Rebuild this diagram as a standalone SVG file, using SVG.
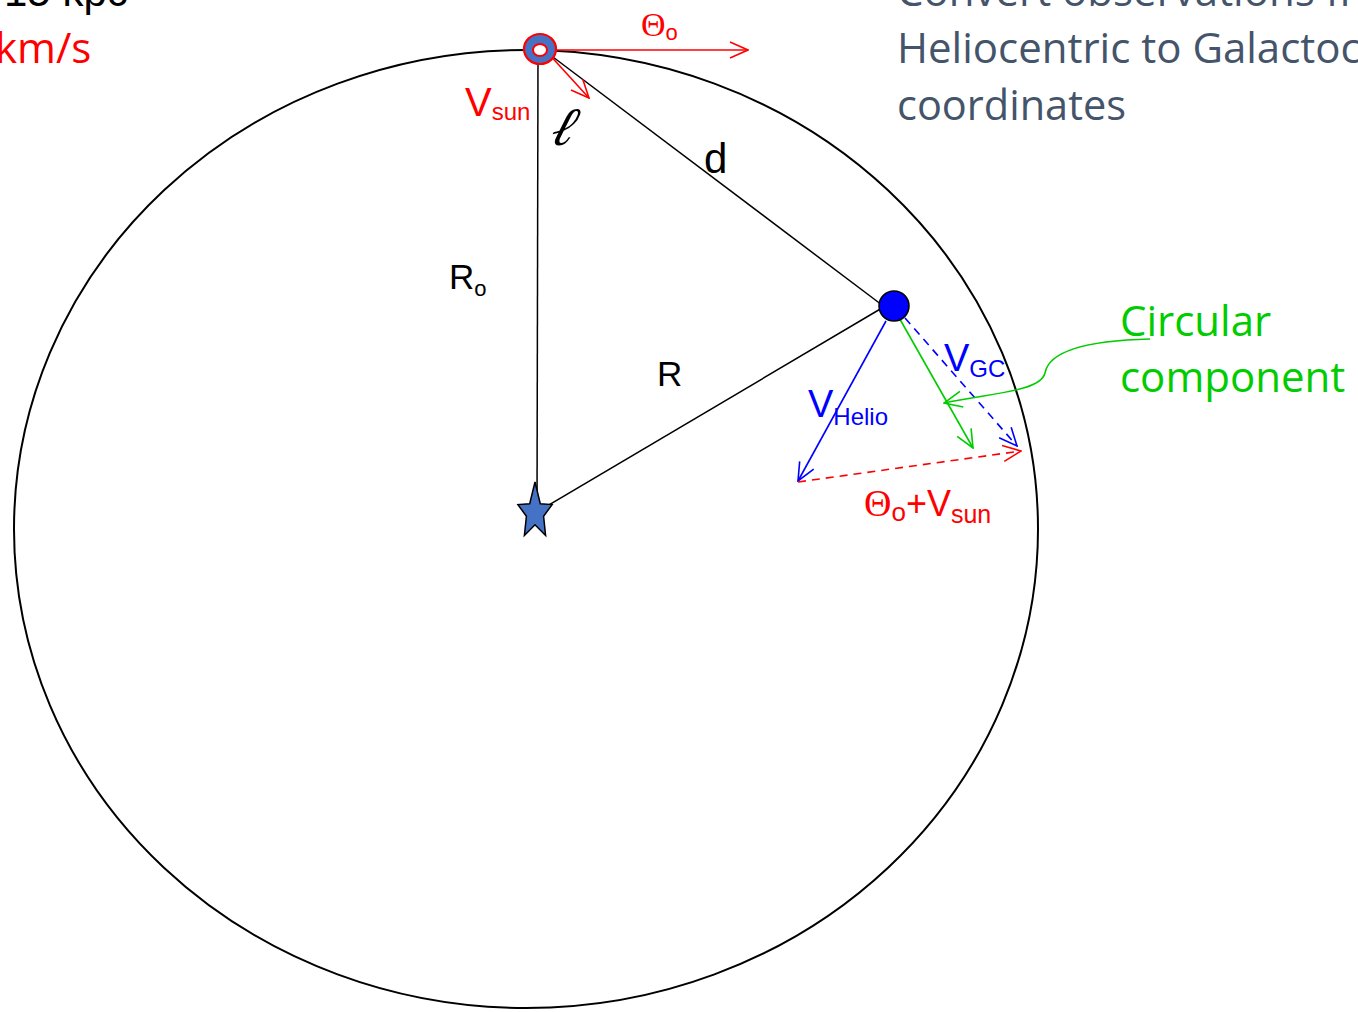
<svg xmlns="http://www.w3.org/2000/svg" width="1358" height="1012" viewBox="0 0 1358 1012">
<defs>
<style>
.ln{fill:none;stroke:#000;stroke-width:1.5}
.r{fill:#FF0000}
.b{fill:#0000FF}
.g{fill:#00CC00}
.lab{font-family:"Liberation Sans",Arial,sans-serif}
.th{font-family:"Liberation Serif","Times New Roman",serif}
.cal{font-family:"Open Sans","Liberation Sans",sans-serif}
</style>
<marker id="ar" viewBox="0 0 20 20" refX="19" refY="10" markerWidth="20" markerHeight="20" markerUnits="userSpaceOnUse" orient="auto"><path d="M1,2 L19,10 L1,18" fill="none" stroke="#FF0000" stroke-width="1.6"/></marker>
<marker id="ab" viewBox="0 0 20 20" refX="19" refY="10" markerWidth="20" markerHeight="20" markerUnits="userSpaceOnUse" orient="auto"><path d="M1,2 L19,10 L1,18" fill="none" stroke="#0000FF" stroke-width="1.6"/></marker>
<marker id="ag" viewBox="0 0 20 20" refX="19" refY="10" markerWidth="20" markerHeight="20" markerUnits="userSpaceOnUse" orient="auto"><path d="M1,2 L19,10 L1,18" fill="none" stroke="#00CC00" stroke-width="1.6"/></marker>
<marker id="ags" viewBox="0 0 20 20" refX="1" refY="10" markerWidth="20" markerHeight="20" markerUnits="userSpaceOnUse" orient="auto"><path d="M19,2 L1,10 L19,18" fill="none" stroke="#00CC00" stroke-width="1.6"/></marker>
</defs>
<rect width="1358" height="1012" fill="#fff"/>

<g id="galaxy">
<ellipse cx="526" cy="529" rx="512" ry="479" fill="none" stroke="#000" stroke-width="2"/>
</g>

<g id="connectors">
<line class="ln" x1="538" y1="55" x2="537" y2="510"/>
<line class="ln" x1="545" y1="51" x2="882" y2="305"/>
<line class="ln" x1="537" y1="512" x2="882" y2="308"/>
<line x1="548" y1="50" x2="748" y2="50" stroke="#FF0000" stroke-width="1.6" marker-end="url(#ar)"/>
<line x1="547" y1="52" x2="589" y2="98" stroke="#FF0000" stroke-width="1.6" marker-end="url(#ar)"/>
<line x1="886" y1="321" x2="798" y2="481" stroke="#0000FF" stroke-width="1.6" marker-end="url(#ab)"/>
<line x1="893" y1="307" x2="973" y2="448" stroke="#00CC00" stroke-width="1.6" marker-end="url(#ag)"/>
<line x1="905" y1="318" x2="1017" y2="446" stroke="#0000FF" stroke-width="1.6" stroke-dasharray="8,6" marker-end="url(#ab)"/>
<line x1="798" y1="482" x2="1021" y2="451" stroke="#FF0000" stroke-width="1.6" stroke-dasharray="8,6" marker-end="url(#ar)"/>
<path d="M944 403 C990 393,1040 392,1045 373 C1050 345,1110 340,1150 339" fill="none" stroke="#00CC00" stroke-width="1.6" marker-start="url(#ags)"/>
</g>

<g id="sun">
<ellipse cx="540" cy="49" rx="16" ry="15" fill="#4472C4" stroke="#FF0000" stroke-width="2.2"/>
<ellipse cx="540" cy="50" rx="7" ry="6" fill="#fff" stroke="#FF0000" stroke-width="2"/>
</g>

<g id="star-object">
<circle cx="894" cy="306" r="15" fill="#0000FF" stroke="#000" stroke-width="1.5"/>
</g>

<g id="galactic-center">
<polygon points="535,482 540.3,503.7 552.1,504.6 543.6,516.3 545.6,535.5 535,524.7 524.4,535.5 526.4,516.3 517.9,504.6 529.7,503.7" fill="#4472C4" stroke="#000" stroke-width="1.5"/>
</g>

<g id="labels">
<text class="lab" x="4" y="6" font-size="42" fill="#000">15 kpc</text>
<text class="cal" x="-5" y="63" font-size="42" fill="#FF0000">km/s</text>
<text class="r" x="641" y="36"><tspan class="th" font-size="34">Θ</tspan><tspan class="lab" font-size="22" dy="4">o</tspan></text>
<text class="lab r" x="465" y="116" font-size="40">V<tspan font-size="24" dy="4">sun</tspan></text>
<text x="0" y="0" font-family="DejaVu Serif,serif" font-style="italic" font-size="54" fill="#000" transform="translate(548 145) skewX(-18)">ℓ</text>
<text class="lab" x="704" y="173" font-size="42" fill="#000">d</text>
<text class="lab" x="449" y="289" font-size="35" fill="#000">R<tspan font-size="22" dy="7">o</tspan></text>
<text class="lab" x="657" y="386" font-size="35" fill="#000">R</text>
<text class="lab b" x="944" y="371" font-size="38">V<tspan font-size="24" dy="6">GC</tspan></text>
<text class="lab b" x="808" y="417" font-size="38">V<tspan font-size="24" dy="8">Helio</tspan></text>
<text class="r" x="864" y="516"><tspan class="th" font-size="38">Θ</tspan><tspan class="lab" font-size="26" dy="5">o</tspan><tspan class="lab" font-size="36" dy="-5">+V</tspan><tspan class="lab" font-size="25" dy="7">sun</tspan></text>
<text class="cal g" x="1120" y="336" font-size="42">Circular</text>
<text class="cal g" x="1120" y="392" font-size="42">component</text>
<text class="cal" x="897" y="6" font-size="42" fill="#44546A">Convert observations from</text>
<text class="cal" x="897" y="63" font-size="42" fill="#44546A">Heliocentric to Galactocentric</text>
<text class="cal" x="897" y="120" font-size="41.5" fill="#44546A">coordinates</text>
</g>
</svg>
